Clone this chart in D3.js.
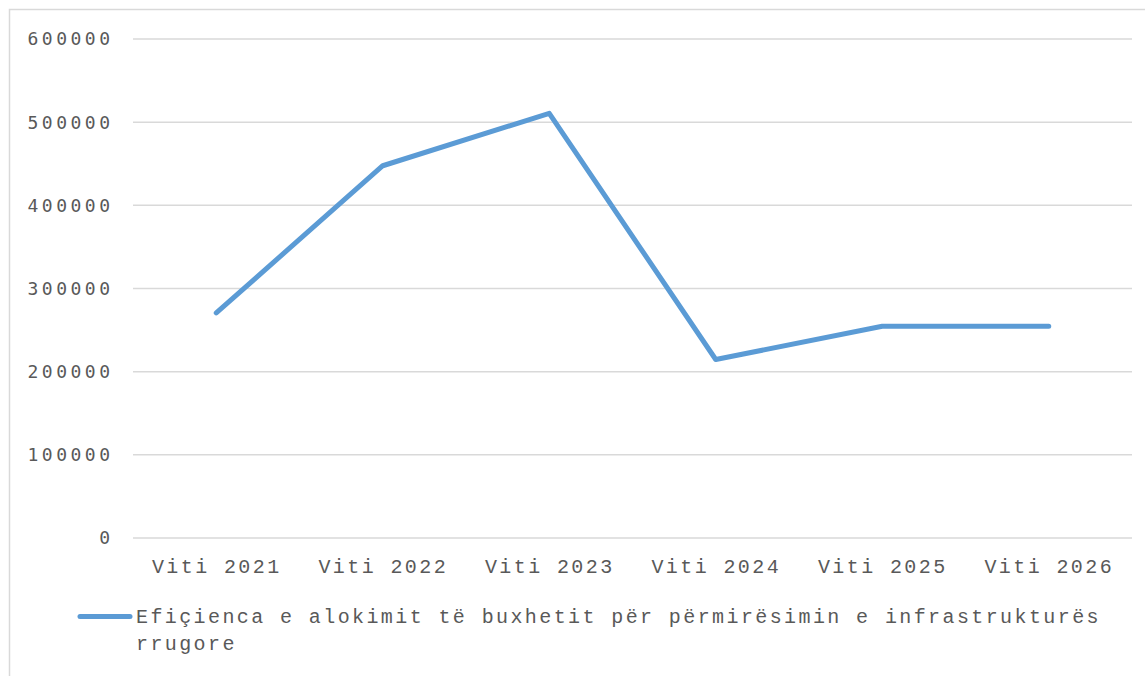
<!DOCTYPE html>
<html>
<head>
<meta charset="utf-8">
<script src="https://cdn.jsdelivr.net/npm/d3@7"></script>
<style>
  html, body { margin: 0; padding: 0; background: #fff; }
  svg { display: block; }
</style>
</head>
<body>
<svg id="chart" width="1145" height="676"></svg>
<script>
const categories = ["Viti 2021", "Viti 2022", "Viti 2023", "Viti 2024", "Viti 2025", "Viti 2026"];
const values = [270000, 447000, 510000, 214000, 254000, 254000];
const yTicks = [0, 100000, 200000, 300000, 400000, 500000, 600000];
const seriesName = "Efiçienca e alokimit të buxhetit për përmirësimin e infrastrukturës";
const seriesName2 = "rrugore";

(function () {
const svg = d3.select("#chart");
const W = 1145, H = 676;
const pLeft = 133, pRight = 1132, pTop = 38.5, pBottom = 537.5;
const textColor = "#595959";
const gridColor = "#d9d9d9";
const lineColor = "#5b9bd5";

// outer border
svg.append("rect").attr("x", 9.5).attr("y", 9.5).attr("width", W + 20).attr("height", H + 20)
  .attr("fill", "#fff").attr("stroke", gridColor).attr("stroke-width", 1.5);

const x = d3.scaleBand().domain(categories).range([pLeft, pRight]).paddingInner(0).paddingOuter(0);
const y = d3.scaleLinear().domain([0, 600000]).range([pBottom, pTop]);

// gridlines
const yAxis = d3.axisLeft(y).tickValues(yTicks).tickSize(-(pRight - pLeft)).tickFormat(d => d);
const gy = svg.append("g").attr("transform", `translate(${pLeft},0)`).call(yAxis);
gy.select(".domain").remove();
gy.selectAll(".tick line").attr("stroke", gridColor).attr("stroke-width", 1.5);
gy.selectAll(".tick text")
  .attr("x", -19.5)
  .attr("dy", "0.36em")
  .attr("fill", textColor)
  .style("font-family", "'DejaVu Sans Mono', monospace")
  .style("font-size", "18px")
  .style("letter-spacing", "3.5px")
  .attr("text-anchor", "end");

// x axis labels
const xAxis = d3.axisBottom(x).tickSize(0).tickPadding(0);
const gx = svg.append("g").attr("transform", `translate(0,${pBottom})`).call(xAxis);
gx.select(".domain").remove();
gx.selectAll(".tick text")
  .attr("y", 35)
  .attr("dy", 0)
  .attr("dx", 0.5)
  .attr("fill", textColor)
  .style("font-family", "'Liberation Mono', monospace")
  .style("font-size", "20px")
  .style("letter-spacing", "2.4px");

// line
const line = d3.line()
  .x((d, i) => x(categories[i]) + x.bandwidth() / 2)
  .y(d => y(d));
svg.append("path").datum(values)
  .attr("d", line)
  .attr("fill", "none")
  .attr("stroke", lineColor)
  .attr("stroke-width", 5)
  .attr("stroke-linejoin", "round")
  .attr("stroke-linecap", "round");

// legend
svg.append("line").attr("x1", 80).attr("x2", 130).attr("y1", 616.5).attr("y2", 616.5)
  .attr("stroke", lineColor).attr("stroke-width", 5).attr("stroke-linecap", "round");
const legText = svg.append("text")
  .attr("fill", textColor)
  .style("font-family", "'Liberation Mono', monospace")
  .style("font-size", "20px")
  .style("letter-spacing", "2.4px");
legText.append("tspan").attr("x", 136).attr("y", 623).text(seriesName);
legText.append("tspan").attr("x", 136).attr("y", 650).text(seriesName2);
})();
</script>
</body>
</html>
